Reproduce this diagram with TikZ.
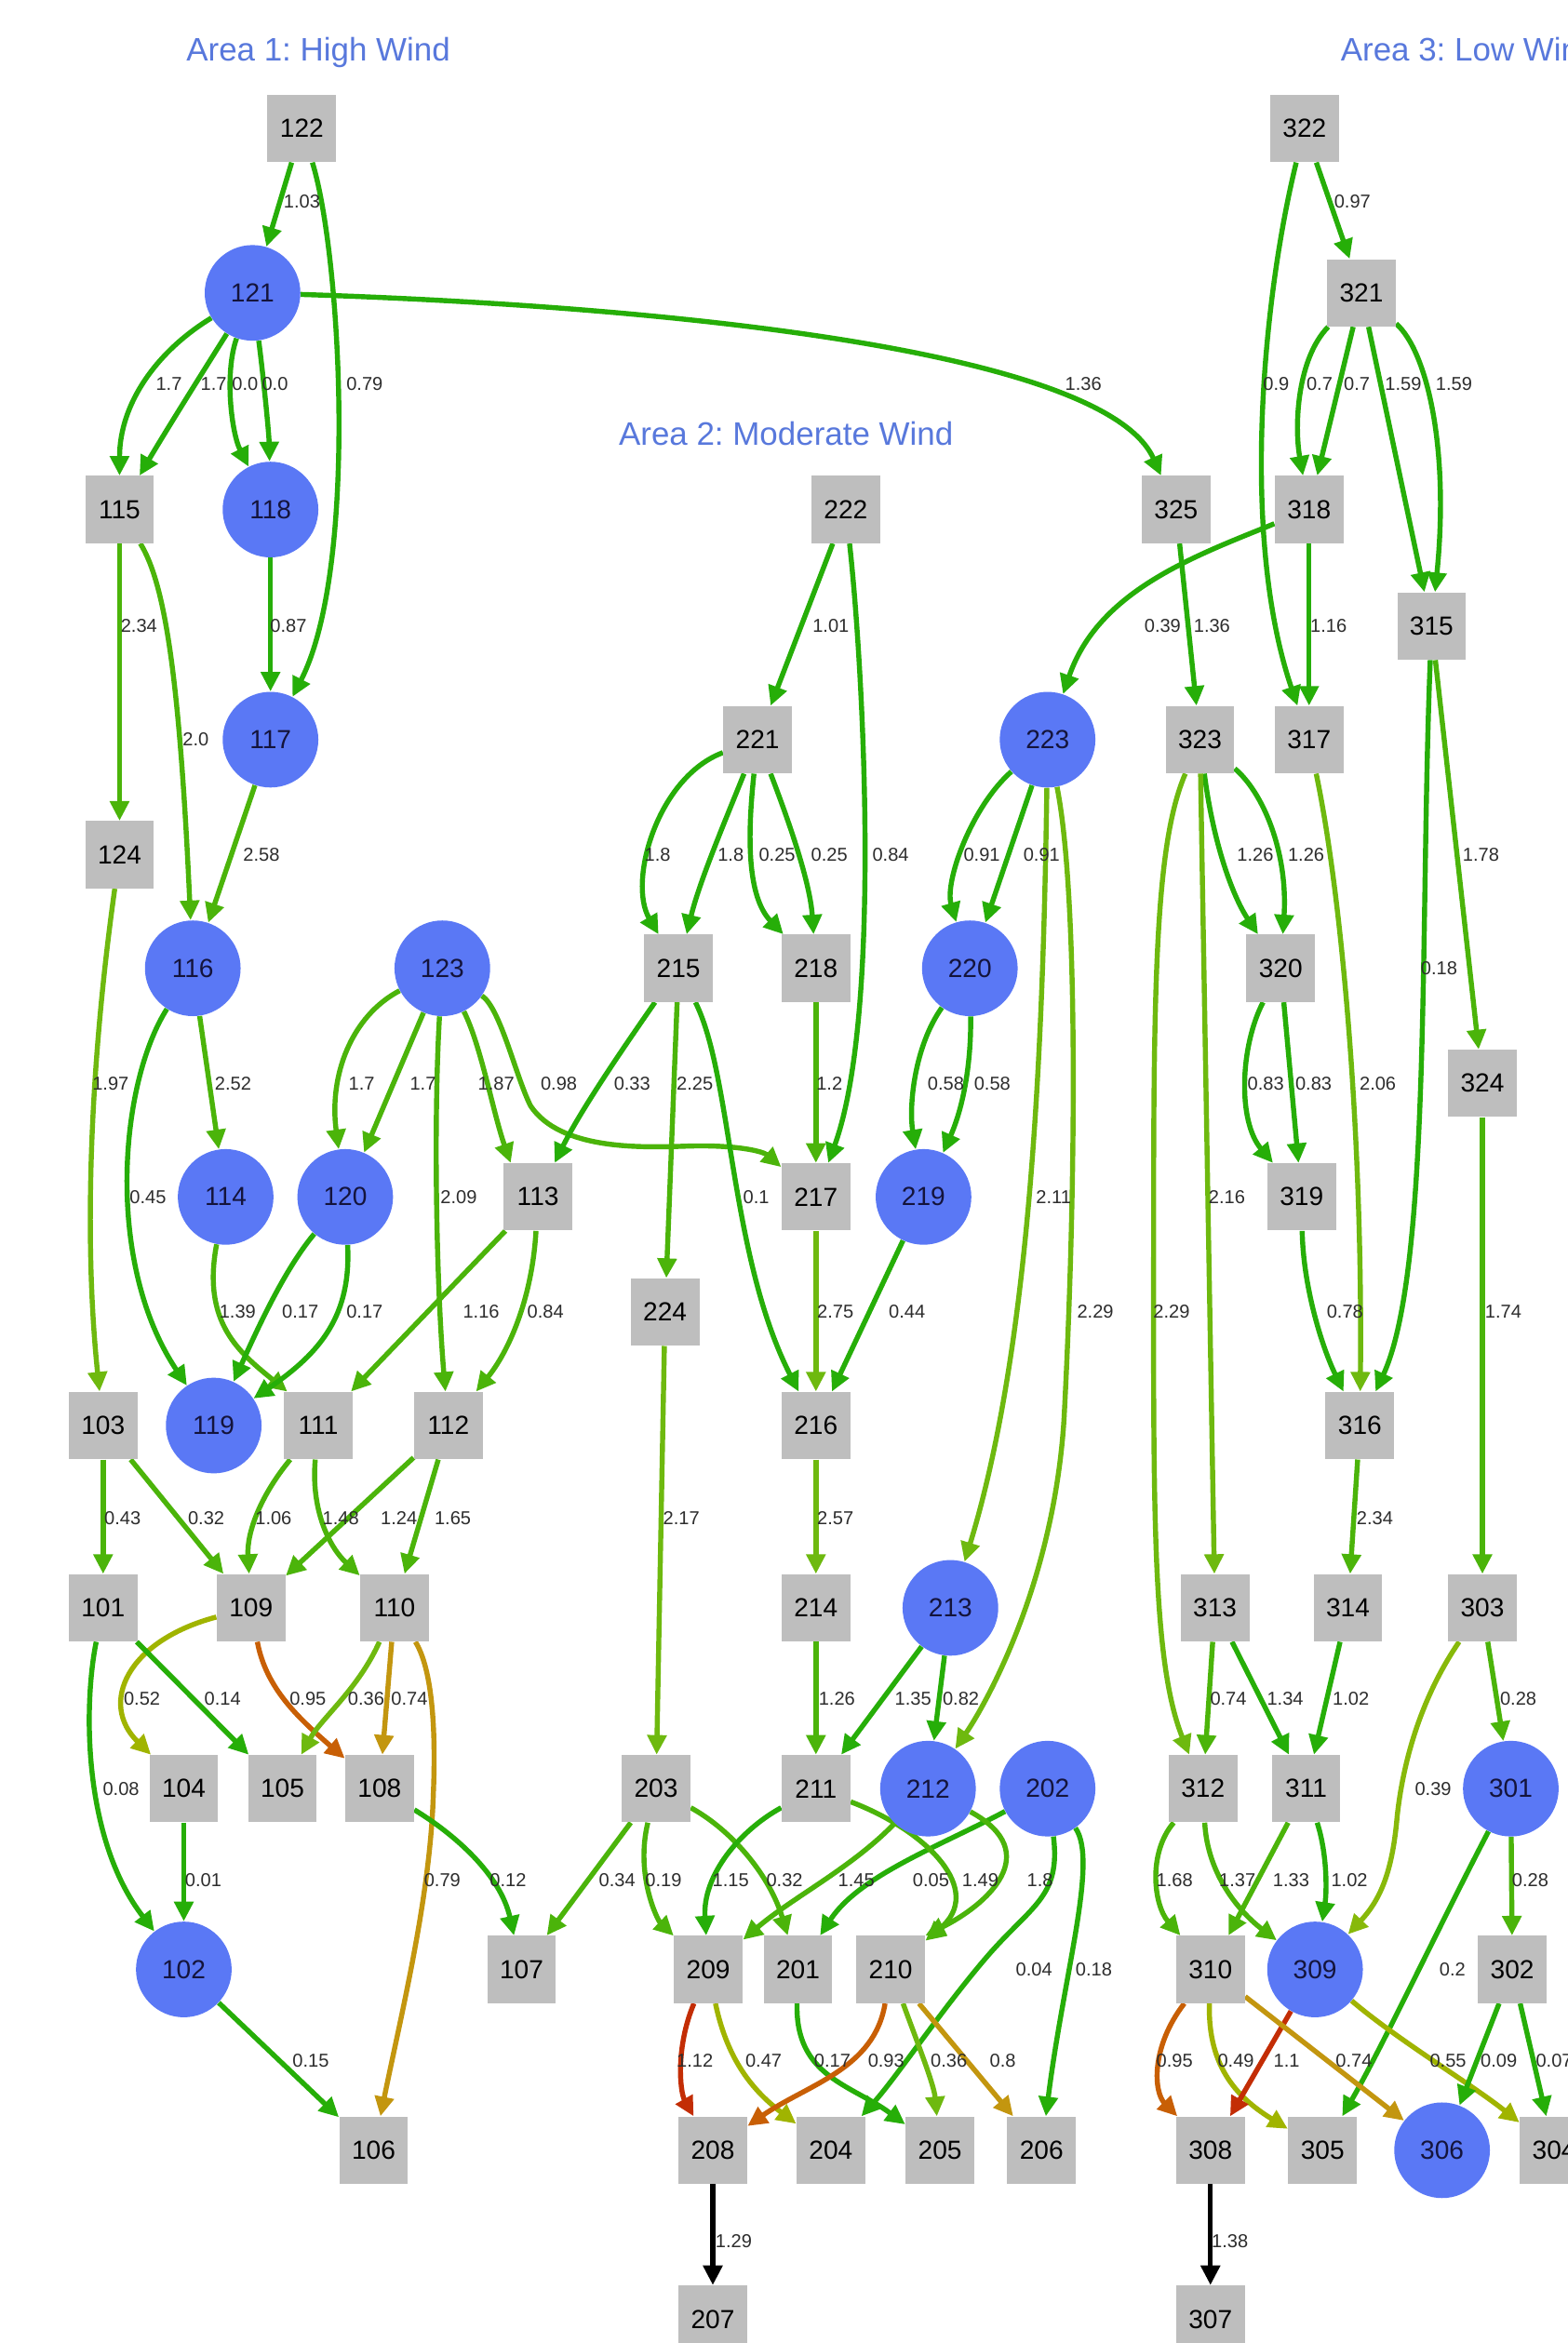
\documentclass[tikz,border=0pt]{standalone}
\usepackage{fontspec}
\setmainfont{Liberation Sans}
\frenchspacing
\usetikzlibrary{arrows.meta}
\definecolor{boxgray}{RGB}{190,190,190}
\definecolor{circblue}{RGB}{90,120,245}
\definecolor{circtext}{RGB}{20,20,60}
\definecolor{titleblue}{RGB}{88,120,220}
\definecolor{labgray}{RGB}{45,45,45}
\definecolor{ga}{RGB}{38,174,8}
\definecolor{gb}{RGB}{75,180,10}
\definecolor{gc}{RGB}{110,185,15}
\definecolor{yg}{RGB}{135,185,10}
\definecolor{ol}{RGB}{160,180,0}
\definecolor{oa}{RGB}{195,150,15}
\definecolor{ob}{RGB}{200,95,5}
\definecolor{rd}{RGB}{195,45,5}
\pgfdeclarelayer{bglayer}
\pgfdeclarelayer{edgelayer}
\pgfsetlayers{bglayer,edgelayer,main}
\tikzset{
 bx/.style={rectangle, fill=boxgray, minimum width=36.8pt, minimum height=36pt, inner sep=0pt, font=\fontsize{14}{15}\selectfont},
 cr/.style={circle, fill=circblue, minimum size=51.2pt, inner sep=0pt, text=circtext, font=\fontsize{14}{15}\selectfont},
 ed/.style={line width=2.7pt, draw=ga, line join=round, -{Triangle[length=10.5pt,width=10pt]}},
 lb/.style={inner sep=0pt, text=labgray, font=\fontsize{10}{11}\selectfont},
 tt/.style={inner sep=0pt, text=titleblue, font=\fontsize{17.4}{18}\selectfont, anchor=base},
}
\begin{document}
\begin{tikzpicture}[x=0.8pt,y=-0.8pt]
\useasboundingbox (0,0) rectangle (1049,1568);
\begin{pgfonlayer}{bglayer}
\fill[white] (0,0) rectangle (1049,1568);
\end{pgfonlayer}

% titles
\node[tt] (t1) at (213,41) {Area 1: High Wind};
\node[tt] (t2) at (526,298) {Area 2: Moderate Wind};
\node[tt, anchor=base west] (t3) at (897,41) {Area 3: Low Wind};

% Area 1 nodes
\node[bx] (n122) at (202,86) {122};
\node[cr] (n121) at (169,196) {121};
\node[bx] (n115) at (80,341) {115};
\node[cr] (n118) at (181,341) {118};
\node[cr] (n117) at (181,495) {117};
\node[bx] (n124) at (80,572) {124};
\node[cr] (n116) at (129,648) {116};
\node[cr] (n123) at (296,648) {123};
\node[cr] (n114) at (151,801) {114};
\node[cr] (n120) at (231,801) {120};
\node[bx] (n113) at (360,801) {113};
\node[bx] (n103) at (69,954) {103};
\node[cr] (n119) at (143,954) {119};
\node[bx] (n111) at (213,954) {111};
\node[bx] (n112) at (300,954) {112};
\node[bx] (n101) at (69,1076) {101};
\node[bx] (n109) at (168,1076) {109};
\node[bx] (n110) at (264,1076) {110};
\node[bx] (n104) at (123,1197) {104};
\node[bx] (n105) at (189,1197) {105};
\node[bx] (n108) at (254,1197) {108};
\node[cr] (n102) at (123,1318) {102};
\node[bx] (n107) at (349,1318) {107};
\node[bx] (n106) at (250,1439) {106};
% Area 2 nodes
\node[bx] (n222) at (566,341) {222};
\node[bx] (n221) at (507,495) {221};
\node[cr] (n223) at (701,495) {223};
\node[bx] (n215) at (454,648) {215};
\node[bx] (n218) at (546,648) {218};
\node[cr] (n220) at (649,648) {220};
\node[bx] (n217) at (546,801) {217};
\node[cr] (n219) at (618,801) {219};
\node[bx] (n224) at (445,878) {224};
\node[bx] (n216) at (546,954) {216};
\node[bx] (n214) at (546,1076) {214};
\node[cr] (n213) at (636,1076) {213};
\node[bx] (n203) at (439,1197) {203};
\node[bx] (n211) at (546,1197) {211};
\node[cr] (n212) at (621,1197) {212};
\node[cr] (n202) at (701,1197) {202};
\node[bx] (n209) at (474,1318) {209};
\node[bx] (n201) at (534,1318) {201};
\node[bx] (n210) at (596,1318) {210};
\node[bx] (n208) at (477,1439) {208};
\node[bx] (n204) at (556,1439) {204};
\node[bx] (n205) at (629,1439) {205};
\node[bx] (n206) at (697,1439) {206};
\node[bx] (n207) at (477,1552) {207};
% Area 3 nodes
\node[bx] (n322) at (873,86) {322};
\node[bx] (n321) at (911,196) {321};
\node[bx] (n325) at (787,341) {325};
\node[bx] (n318) at (876,341) {318};
\node[bx] (n315) at (958,419) {315};
\node[bx] (n323) at (803,495) {323};
\node[bx] (n317) at (876,495) {317};
\node[bx] (n320) at (857,648) {320};
\node[bx] (n324) at (992,725) {324};
\node[bx] (n319) at (871,801) {319};
\node[bx] (n316) at (910,954) {316};
\node[bx] (n313) at (813,1076) {313};
\node[bx] (n314) at (902,1076) {314};
\node[bx] (n303) at (992,1076) {303};
\node[bx] (n312) at (805,1197) {312};
\node[bx] (n311) at (874,1197) {311};
\node[cr] (n301) at (1011,1197) {301};
\node[bx] (n310) at (810,1318) {310};
\node[cr] (n309) at (880,1318) {309};
\node[bx] (n302) at (1012,1318) {302};
\node[bx] (n308) at (810,1439) {308};
\node[bx] (n305) at (885,1439) {305};
\node[cr] (n306) at (965,1439) {306};
\node[bx] (n304) at (1040,1439) {304};
\node[bx] (n307) at (810,1552) {307};

\begin{pgfonlayer}{edgelayer}
% Area 1 edges
\draw[ed] (n122) -- (n121);
\draw[ed] (n122) .. controls (228,170) and (240,380) .. (n117);
\draw[ed] (n121) .. controls (105,235) and (80,270) .. (n115);
\draw[ed] (n121) .. controls (135,250) and (110,290) .. (n115);
\draw[ed] (n121) .. controls (150,250) and (155,290) .. (n118);
\draw[ed] (n121) .. controls (176,250) and (180,290) .. (n118);
\draw[ed] (n121) .. controls (450,205) and (740,235) .. (n325);
\draw[ed, draw=gb] (n115) -- (n124);
\draw[ed, draw=gb] (n115) .. controls (110,390) and (120,450) .. (n116);
\draw[ed] (n118) -- (n117);
\draw[ed, draw=gb] (n117) -- (n116);
\draw[ed, draw=gc] (n124) .. controls (62,700) and (55,820) .. (n103);
\draw[ed] (n116) .. controls (80,725) and (70,845) .. (n119);
\draw[ed, draw=gb] (n116) -- (n114);
\draw[ed, draw=gb] (n123) .. controls (235,680) and (220,720) .. (n120);
\draw[ed, draw=gb] (n123) -- (n120);
\draw[ed, draw=gb] (n123) .. controls (290,750) and (292,860) .. (n112);
\draw[ed, draw=gb] (n123) .. controls (322,700) and (330,745) .. ([xshift=4pt]n113.north west);
\draw[ed, draw=gb] (n123) .. controls (335,675) and (345,720) .. (355,740) .. controls (375,770) and (430,768) .. (460,767) .. controls (490,766) and (510,770) .. (n217);
\draw[ed, draw=gb] (n114) .. controls (135,885) and (160,905) .. ([xshift=2pt]n111.north west);
\draw[ed] (n120) .. controls (190,850) and (172,890) .. (n119);
\draw[ed] (n120) .. controls (235,880) and (215,905) .. (n119);
\draw[ed, draw=gb] (n113) -- (n111);
\draw[ed, draw=gb] (n113) .. controls (356,870) and (340,905) .. (n112);
\draw[ed, draw=gb] (n103) -- (n101);
\draw[ed, draw=gb] (n103) -- (n109);
\draw[ed, draw=gb] (n111) .. controls (175,1000) and (165,1025) .. (n109);
\draw[ed, draw=gb] (n111) .. controls (208,1010) and (220,1035) .. (n110);
\draw[ed, draw=gb] (n112) -- (n109);
\draw[ed, draw=gb] (n112) -- (n110);
\draw[ed, draw=ol] (n109) .. controls (85,1098) and (66,1140) .. ([xshift=1pt]n104.north west);
\draw[ed] (n101) -- (n105);
\draw[ed, draw=ob] (n109) .. controls (178,1130) and (200,1150) .. (n108);
\draw[ed, draw=gc] (n110) .. controls (240,1130) and (215,1150) .. (n105);
\draw[ed, draw=oa] (n110) -- (n108);
\draw[ed, draw=oa] (n110) .. controls (288,1115) and (292,1150) .. (290,1200) .. controls (288,1270) and (268,1350) .. (n106);
\draw[ed] (n101) .. controls (56,1140) and (55,1230) .. (n102);
\draw[ed] (n104) -- (n102);
\draw[ed] (n102) -- (n106);
\draw[ed] (n108) .. controls (305,1228) and (335,1255) .. (n107);
% Area 2 edges
\draw[ed] (n222) -- (n221);
\draw[ed] (n222) .. controls (578,450) and (590,680) .. (n217);
\draw[ed] (n221) .. controls (440,520) and (420,590) .. (n215);
\draw[ed] (n221) .. controls (485,550) and (468,590) .. (n215);
\draw[ed] (n221) .. controls (500,560) and (500,600) .. (n218);
\draw[ed] (n221) .. controls (528,550) and (542,590) .. (n218);
\draw[ed] (n223) .. controls (650,540) and (632,590) .. (n220);
\draw[ed] (n223) -- (n220);
\draw[ed, draw=gc] (n223) .. controls (698,700) and (690,900) .. (n213);
\draw[ed, draw=gc] (n223) .. controls (722,600) and (720,800) .. (712,950) .. controls (705,1060) and (660,1140) .. (n212);
\draw[ed] (n318) .. controls (800,372) and (735,395) .. (n223);
\draw[ed] (n215) .. controls (425,690) and (390,740) .. (n113);
\draw[ed, draw=gb] (n215) -- (n224);
\draw[ed] (n215) .. controls (490,720) and (488,840) .. (n216);
\draw[ed, draw=gb] (n218) -- (n217);
\draw[ed] (n220) .. controls (612,700) and (608,740) .. (n219);
\draw[ed] (n220) .. controls (650,710) and (645,740) .. (n219);
\draw[ed, draw=gc] (n217) -- (n216);
\draw[ed] (n219) -- (n216);
\draw[ed, draw=gc] (n224) -- (n203);
\draw[ed, draw=gc] (n216) -- (n214);
\draw[ed, draw=gb] (n214) -- (n211);
\draw[ed] (n213) -- (n211);
\draw[ed] (n213) -- (n212);
\draw[ed, draw=gb] (n203) -- (n107);
\draw[ed, draw=gb] (n203) .. controls (425,1255) and (440,1285) .. (n209);
\draw[ed, draw=gb] (n203) .. controls (490,1225) and (515,1255) .. (n201);
\draw[ed] (n211) .. controls (495,1225) and (470,1255) .. (n209);
\draw[ed, draw=gb] (n212) .. controls (570,1250) and (530,1270) .. (n209);
\draw[ed] (n202) .. controls (630,1235) and (575,1255) .. (n201);
\draw[ed, draw=gb] (n211) .. controls (620,1225) and (660,1265) .. (n210);
\draw[ed, draw=gb] (n212) .. controls (700,1240) and (660,1275) .. (n210.north east);
\draw[ed] (n202) .. controls (710,1270) and (690,1275) .. (660,1310) .. controls (630,1345) and (600,1390) .. (n204);
\draw[ed] (n202) .. controls (735,1245) and (712,1320) .. (n206);
\draw[ed, draw=rd] (n209) .. controls (452,1370) and (455,1400) .. (n208);
\draw[ed, draw=ol] (n209) .. controls (487,1380) and (505,1400) .. (n204);
\draw[ed] (n201) .. controls (532,1390) and (570,1395) .. (n205);
\draw[ed, draw=ob] (n210) .. controls (585,1385) and (540,1395) .. (n208);
\draw[ed, draw=gc] (n210) .. controls (615,1370) and (625,1395) .. (n205);
\draw[ed, draw=oa] (n210) -- (n206);
\draw[ed, draw=black] (n208) -- (n207);
% Area 3 edges
\draw[ed] (n322) -- (n321);
\draw[ed] (n322) .. controls (845,200) and (830,360) .. (n317);
\draw[ed] (n321) .. controls (868,240) and (866,285) .. (n318);
\draw[ed] (n321) -- (n318);
\draw[ed] (n321) -- (n315);
\draw[ed] (n321) .. controls (955,235) and (970,300) .. (n315);
\draw[ed] (n325) -- (n323);
\draw[ed] (n318) -- (n317);
\draw[ed] (n315) .. controls (950,620) and (958,850) .. (n316);
\draw[ed, draw=gb] (n315) -- (n324);
\draw[ed] (n323) .. controls (812,565) and (825,600) .. (n320);
\draw[ed] (n323) .. controls (845,530) and (862,570) .. (n320);
\draw[ed, draw=gc] (n323) .. controls (775,560) and (772,640) .. (772,800) .. controls (772,1000) and (770,1110) .. (n312);
\draw[ed, draw=gc] (n323) -- (n313);
\draw[ed, draw=gc] (n317) .. controls (898,600) and (912,760) .. (n316);
\draw[ed] (n320) .. controls (830,700) and (828,750) .. (n319);
\draw[ed] (n320) -- (n319);
\draw[ed] (n319) .. controls (872,860) and (884,900) .. (n316);
\draw[ed, draw=gb] (n324) -- (n303);
\draw[ed, draw=gb] (n316) -- (n314);
\draw[ed, draw=gb] (n313) -- (n312);
\draw[ed] (n313) -- (n311);
\draw[ed] (n314) -- (n311);
\draw[ed, draw=gb] (n303) -- (n301);
\draw[ed, draw=yg] (n303) .. controls (955,1130) and (940,1170) .. (935,1215) .. controls (932,1250) and (925,1270) .. (n309);
\draw[ed, draw=gb] (n312) .. controls (768,1240) and (772,1275) .. (n310);
\draw[ed, draw=gb] (n312) .. controls (808,1255) and (830,1280) .. (n309);
\draw[ed, draw=gb] (n311) -- (n310);
\draw[ed] (n311) .. controls (888,1240) and (888,1265) .. (n309);
\draw[ed, draw=gb] (n301) -- (n302);
\draw[ed] (n301) .. controls (965,1285) and (925,1370) .. (n305);
\draw[ed, draw=ob] (n310) .. controls (770,1370) and (772,1400) .. (n308);
\draw[ed, draw=ol] (n310) .. controls (808,1385) and (830,1405) .. (n305);
\draw[ed, draw=rd] (n309) -- (n308);
\draw[ed, draw=oa] (n310) -- (n306);
\draw[ed, draw=ol] (n309) .. controls (935,1365) and (985,1395) .. (n304);
\draw[ed] (n302) -- (n306);
\draw[ed] (n302) -- (n304);
\draw[ed, draw=black] (n308) -- (n307);
\end{pgfonlayer}

% labels area 1
\node[lb] (l1) at (202,135) {1.03};
\node[lb] (l2) at (244,257) {0.79};
\node[lb] (l3) at (113,257) {1.7};
\node[lb] (l4) at (143,257) {1.7};
\node[lb] (l5) at (164,257) {0.0};
\node[lb] (l6) at (184,257) {0.0};
\node[lb] (l7) at (725,257) {1.36};
\node[lb] (l8) at (93,419) {2.34};
\node[lb] (l9) at (193,419) {0.87};
\node[lb] (l10) at (131,495) {2.0};
\node[lb] (l11) at (175,572) {2.58};
\node[lb] (l12) at (74,725) {1.97};
\node[lb] (l13) at (156,725) {2.52};
\node[lb] (l14) at (242,725) {1.7};
\node[lb] (l15) at (283,725) {1.7};
\node[lb] (l16) at (332,725) {1.87};
\node[lb] (l17) at (374,725) {0.98};
\node[lb] (l18) at (99,801) {0.45};
\node[lb] (l19) at (307,801) {2.09};
\node[lb] (l20) at (159,878) {1.39};
\node[lb] (l21) at (201,878) {0.17};
\node[lb] (l22) at (244,878) {0.17};
\node[lb] (l23) at (322,878) {1.16};
\node[lb] (l24) at (365,878) {0.84};
\node[lb] (l25) at (82,1016) {0.43};
\node[lb] (l26) at (138,1016) {0.32};
\node[lb] (l27) at (183,1016) {1.06};
\node[lb] (l28) at (228,1016) {1.48};
\node[lb] (l29) at (267,1016) {1.24};
\node[lb] (l30) at (303,1016) {1.65};
\node[lb] (l31) at (95,1137) {0.52};
\node[lb] (l32) at (149,1137) {0.14};
\node[lb] (l33) at (206,1137) {0.95};
\node[lb] (l34) at (245,1137) {0.36};
\node[lb] (l35) at (274,1137) {0.74};
\node[lb] (l36) at (81,1197) {0.08};
\node[lb] (l37) at (136,1258) {0.01};
\node[lb] (l38) at (296,1258) {0.79};
\node[lb] (l39) at (340,1258) {0.12};
\node[lb] (l40) at (208,1379) {0.15};
% labels area 2
\node[lb] (m1) at (556,419) {1.01};
\node[lb] (m2) at (596,572) {0.84};
\node[lb] (m3) at (440,572) {1.8};
\node[lb] (m4) at (489,572) {1.8};
\node[lb] (m5) at (520,572) {0.25};
\node[lb] (m6) at (555,572) {0.25};
\node[lb] (m7) at (657,572) {0.91};
\node[lb] (m8) at (697,572) {0.91};
\node[lb] (m9) at (423,725) {0.33};
\node[lb] (m10) at (465,725) {2.25};
\node[lb] (m11) at (555,725) {1.2};
\node[lb] (m12) at (633,725) {0.58};
\node[lb] (m13) at (664,725) {0.58};
\node[lb] (m14) at (506,801) {0.1};
\node[lb] (m15) at (705,801) {2.11};
\node[lb] (m16) at (559,878) {2.75};
\node[lb] (m17) at (607,878) {0.44};
\node[lb] (m18) at (733,878) {2.29};
\node[lb] (m19) at (456,1016) {2.17};
\node[lb] (m20) at (559,1016) {2.57};
\node[lb] (m21) at (560,1137) {1.26};
\node[lb] (m22) at (611,1137) {1.35};
\node[lb] (m23) at (643,1137) {0.82};
\node[lb] (m24) at (413,1258) {0.34};
\node[lb] (m25) at (444,1258) {0.19};
\node[lb] (m26) at (489,1258) {1.15};
\node[lb] (m27) at (525,1258) {0.32};
\node[lb] (m28) at (573,1258) {1.45};
\node[lb] (m29) at (623,1258) {0.05};
\node[lb] (m30) at (656,1258) {1.49};
\node[lb] (m31) at (696,1258) {1.8};
\node[lb] (m32) at (692,1318) {0.04};
\node[lb] (m33) at (732,1318) {0.18};
\node[lb] (m34) at (465,1379) {1.12};
\node[lb] (m35) at (511,1379) {0.47};
\node[lb] (m36) at (557,1379) {0.17};
\node[lb] (m37) at (593,1379) {0.93};
\node[lb] (m38) at (635,1379) {0.36};
\node[lb] (m39) at (671,1379) {0.8};
\node[lb] (m40) at (491,1500) {1.29};
% labels area 3
\node[lb] (k1) at (905,135) {0.97};
\node[lb] (k2) at (854,257) {0.9};
\node[lb] (k3) at (883,257) {0.7};
\node[lb] (k4) at (908,257) {0.7};
\node[lb] (k5) at (939,257) {1.59};
\node[lb] (k6) at (973,257) {1.59};
\node[lb] (k7) at (778,419) {0.39};
\node[lb] (k8) at (811,419) {1.36};
\node[lb] (k9) at (889,419) {1.16};
\node[lb] (k10) at (840,572) {1.26};
\node[lb] (k11) at (874,572) {1.26};
\node[lb] (k12) at (991,572) {1.78};
\node[lb] (k13) at (963,648) {0.18};
\node[lb] (k14) at (847,725) {0.83};
\node[lb] (k15) at (879,725) {0.83};
\node[lb] (k16) at (922,725) {2.06};
\node[lb] (k17) at (821,801) {2.16};
\node[lb] (k18) at (784,878) {2.29};
\node[lb] (k19) at (900,878) {0.78};
\node[lb] (k20) at (1006,878) {1.74};
\node[lb] (k21) at (920,1016) {2.34};
\node[lb] (k22) at (822,1137) {0.74};
\node[lb] (k23) at (860,1137) {1.34};
\node[lb] (k24) at (904,1137) {1.02};
\node[lb] (k25) at (1016,1137) {0.28};
\node[lb] (k26) at (959,1197) {0.39};
\node[lb] (k27) at (786,1258) {1.68};
\node[lb] (k28) at (828,1258) {1.37};
\node[lb] (k29) at (864,1258) {1.33};
\node[lb] (k30) at (903,1258) {1.02};
\node[lb] (k31) at (1024,1258) {0.28};
\node[lb] (k32) at (972,1318) {0.2};
\node[lb] (k33) at (786,1379) {0.95};
\node[lb] (k34) at (827,1379) {0.49};
\node[lb] (k35) at (861,1379) {1.1};
\node[lb] (k36) at (906,1379) {0.74};
\node[lb] (k37) at (969,1379) {0.55};
\node[lb] (k38) at (1003,1379) {0.09};
\node[lb] (k39) at (1040,1379) {0.07};
\node[lb] (k40) at (823,1500) {1.38};
\end{tikzpicture}
\end{document}
